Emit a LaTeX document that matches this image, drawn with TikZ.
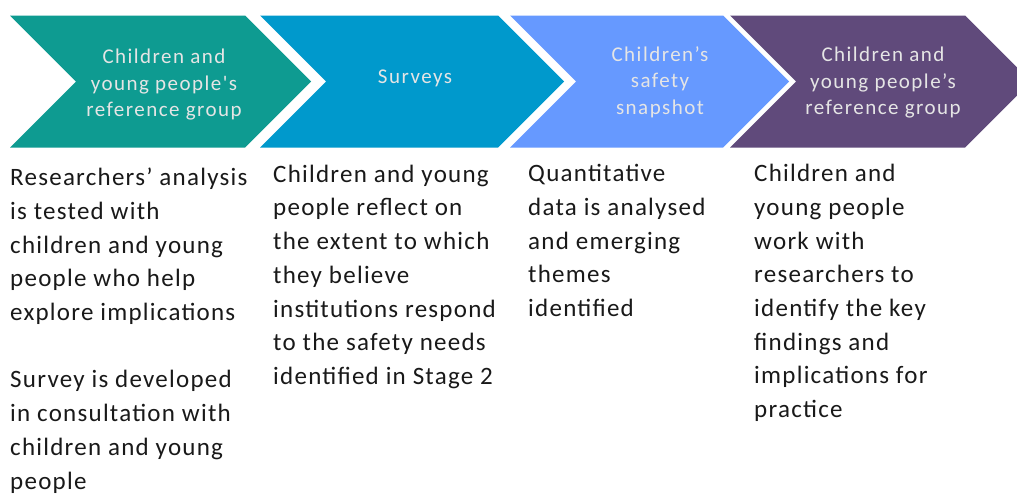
\documentclass[tikz,border=0pt]{standalone}
\usepackage{fontspec}
\setmainfont{Carlito}
\newfontfamily\bodyfont[LetterSpace=5]{Carlito}
\newfontfamily\labelfont[LetterSpace=7]{Carlito}
\definecolor{cteal}{RGB}{14,155,145}
\definecolor{cblue}{RGB}{0,153,204}
\definecolor{clight}{RGB}{102,153,255}
\definecolor{cpurple}{RGB}{96,74,123}
\definecolor{bodytxt}{RGB}{25,25,25}
\tikzset{
  chevlabel/.style={align=center, inner sep=0pt, text=white!90!black, font=\labelfont\fontsize{21}{26.5}\selectfont},
  bodytext/.style={anchor=north west, align=left, inner sep=0pt, text=bodytxt, font=\bodyfont\fontsize{25}{33.7}\selectfont},
}
\newcommand{\chev}[3]{% left, right, colour
  \fill[#3] (#1,15.5) -- (#2,15.5) -- (#2+66,81.5) -- (#2,147.5) -- (#1,147.5) -- (#1+66,81.5) -- cycle;}
\begin{document}
\begin{tikzpicture}[x=1pt,y=-1pt]
\useasboundingbox (0,0) rectangle (1017,493);
\clip (0,0) rectangle (1017,493);
\fill[white] (0,0) rectangle (1017,493);
\chev{10}{245}{cteal}
\chev{260}{498}{cblue}
\chev{510}{723}{clight}
\chev{730}{965}{cpurple}
\node[chevlabel] (l1) at (164,85) {Children and\\young people's\\reference group};
\node[chevlabel] (l2) at (415,78) {Surveys};
\node[chevlabel] (l3) at (660,82) {Children’s\\safety\\snapshot};
\node[chevlabel] (l4) at (883,83) {Children and\\young people’s\\reference group};
\node[bodytext] (t1) at (10,162) {\strut Researchers’ analysis\\is tested with\\children and young\\people who help\\explore implications\\[33.7pt]Survey is developed\\in consultation with\\children and young\\people};
\node[bodytext] (t2) at (273,158.5) {\strut Children and young\\people reflect on\\the extent to which\\they believe\\institutions respond\\to the safety needs\\identified in Stage 2};
\node[bodytext] (t3) at (528,158) {\strut Quantitative\\data is analysed\\and emerging\\themes\\identified};
\node[bodytext] (t4) at (754,158) {\strut Children and\\young people\\work with\\researchers to\\identify the key\\findings and\\implications for\\practice};
\end{tikzpicture}
\end{document}
